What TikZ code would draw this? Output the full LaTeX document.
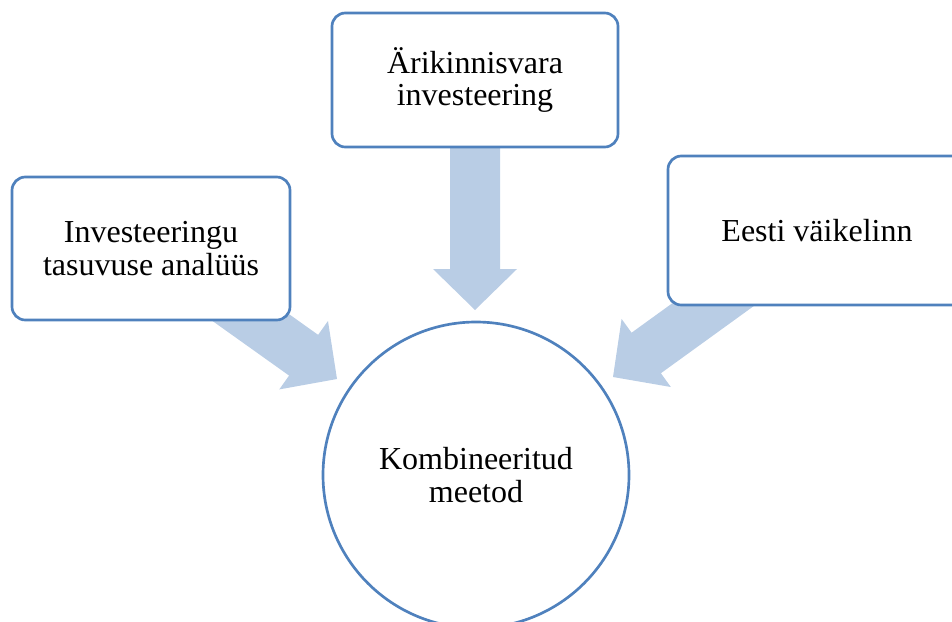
\documentclass[tikz,border=0pt]{standalone}
\usepackage{fontspec}
\setmainfont{Liberation Serif}
\usetikzlibrary{calc}

\definecolor{edgeblue}{HTML}{4F81BD}
\definecolor{arrowblue}{HTML}{B9CDE5}

% block arrow from tail #1 to tip #2 (shaft and head sizes fixed)
\newcommand{\blockarrow}[2]{%
  \coordinate (ba-h) at ($(#2)!30.75pt!(#1)$);
  \fill[arrowblue]
    ($(#1)!18.75pt!90:(#2)$) --
    ($(ba-h)!18.75pt!90:(#2)$) --
    ($(ba-h)!31.5pt!90:(#2)$) --
    (#2) --
    ($(ba-h)!31.5pt!-90:(#2)$) --
    ($(ba-h)!18.75pt!-90:(#2)$) --
    ($(#1)!18.75pt!-90:(#2)$) -- cycle;
}

\begin{document}
\begin{tikzpicture}[x=0.75pt,y=-0.75pt,
  txt/.style={font=\fontsize{24pt}{24.3pt}\selectfont, align=center, text=black},
  box/.style={txt, draw=edgeblue, fill=white, line width=2pt,
    rounded corners=10pt, inner sep=0pt},
  ring/.style={txt, circle, draw=edgeblue, fill=white, line width=2pt, inner sep=0pt}]
\useasboundingbox (0,0) rectangle (952,621);
\clip (0,0) rectangle (952,621);

% arrows (drawn first, partly hidden by the boxes)
\coordinate (ta) at (475,140);
\coordinate (tb) at (475,310);
\coordinate (la) at (198.6,280.4);
\coordinate (lb) at (337,379);
\coordinate (ra) at (750.7,277.4);
\coordinate (rb) at (613,377);
\blockarrow{ta}{tb}
\blockarrow{la}{lb}
\blockarrow{ra}{rb}

% boxes
\node[box, minimum width=214.5pt, minimum height=100.5pt] (top) at (475,80)
  {Ärikinnisvara\\investeering};
\node[box, minimum width=208.5pt, minimum height=107.25pt] (left) at (151,248.5)
  {Investeeringu\\tasuvuse analüüs};
\node[box, minimum width=223.5pt, minimum height=111.75pt] (right) at (817,230.5)
  {Eesti väikelinn};

% central circle
\node[ring, minimum size=229.5pt] (mid) at (476,475)
  {Kombineeritud\\meetod};
\end{tikzpicture}
\end{document}
